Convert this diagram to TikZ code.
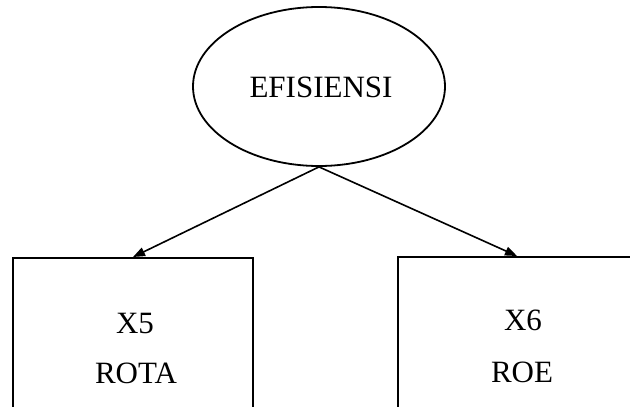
\documentclass[tikz,border=0pt]{standalone}
\usepackage{fontspec}
\setmainfont{Liberation Serif}
\usetikzlibrary{shapes.geometric,arrows.meta}
\begin{document}
\begin{tikzpicture}[x=1pt,y=-1pt,
  line width=1.8pt,
  lbl/.style={font=\fontsize{31}{37}\selectfont, inner sep=0pt},
  latent/.style={draw, ellipse, minimum width=252pt, minimum height=159pt, inner sep=0pt},
  obsbox/.style={draw, rectangle, minimum width=240pt, minimum height=220pt, inner sep=0pt, anchor=north},
  conn/.style={-{Triangle[length=12pt,width=9pt]}, line width=1.6pt}]
\useasboundingbox (0,0) rectangle (630,407);
\clip (0,0) rectangle (630,407);
\node[latent] (e) at (319,86.5) {};
\node[lbl] (et) at (321,87) {EFISIENSI};
\node[obsbox] (b1) at (133,257) {};
\node[obsbox, minimum width=238pt] (b2) at (517,256) {};
\node[lbl] (x5) at (135,323) {X5};
\node[lbl] (rota) at (136,373) {ROTA};
\node[lbl] (x6) at (523,320) {X6};
\node[lbl] (roe) at (522,372) {ROE};
\draw[conn] (e.south) -- (b1.north);
\draw[conn] (e.south) -- (b2.north);
\end{tikzpicture}
\end{document}
